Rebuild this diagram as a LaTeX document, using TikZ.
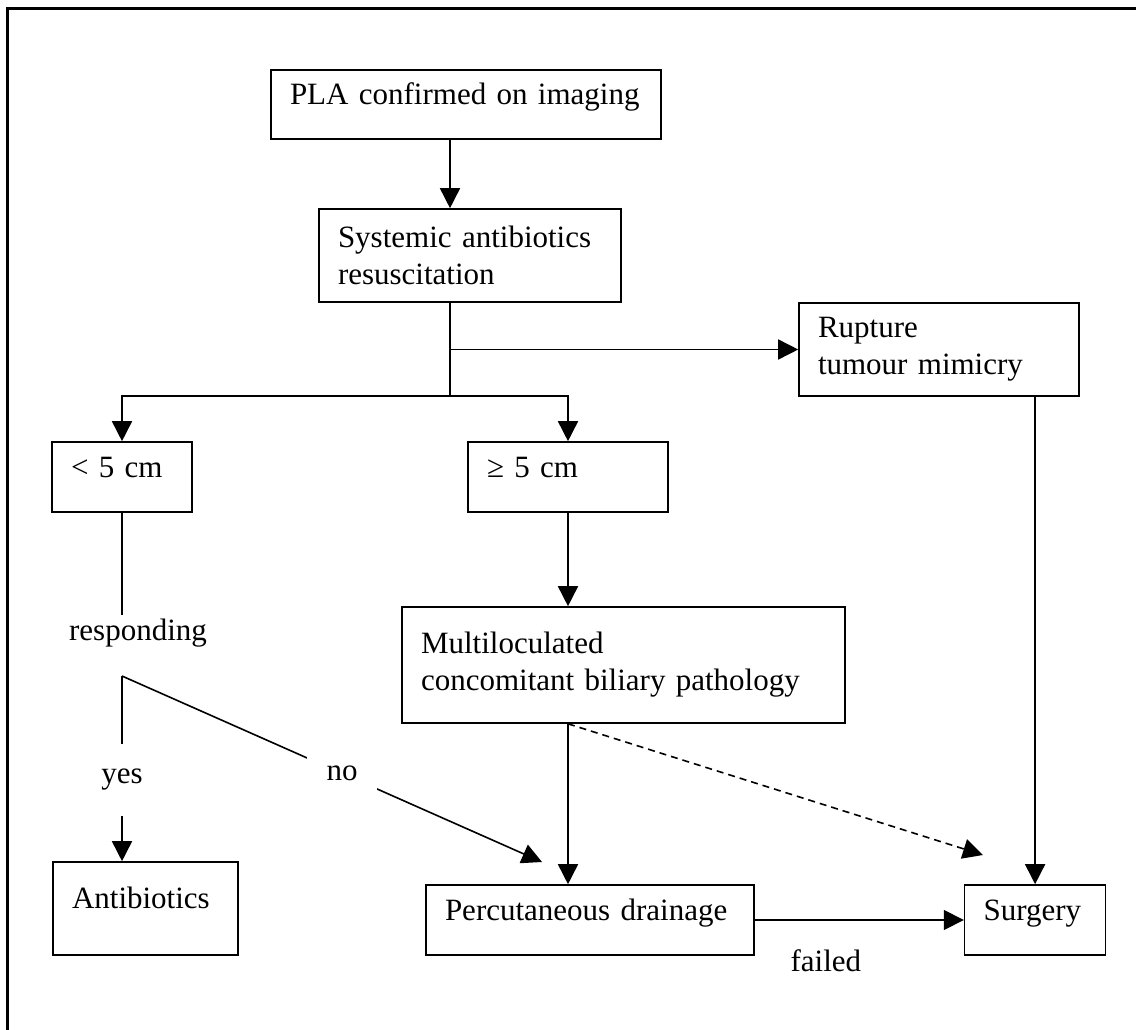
\documentclass[tikz,border=0pt]{standalone}
\usepackage{fontspec}
\setmainfont{Liberation Serif}
\usepackage{tikz}
\usetikzlibrary{positioning}
\usetikzlibrary{arrows}
\usetikzlibrary{arrows.meta}
\tikzset{box node/.style={draw,rectangle,line width=1.6pt,align=left,inner xsep=19pt,inner ysep=0pt},
  one line/.style={text height=12pt,text depth=12pt},
  gap node/.style={fill=white,inner sep=0pt,minimum width=70pt,minimum height=72pt},}

\begin{document}
\begin{tikzpicture}[x=1pt,y=-1pt,->,>={Triangle[length=20pt,width=20pt]},line width=1.6pt,font=\fontsize{31}{37}\selectfont]
	\useasboundingbox (0,0) rectangle (1136,1030);
	\draw[-,line width=3pt] (7,9) rectangle (1160,1060);

	\node[box node,one line,text width=352pt,minimum height=69pt] (pla) at (466,104.5) {PLA confirmed on imaging};
	\node[box node,text width=264pt,minimum height=93pt] (sys) at (470,255.5) {Systemic antibiotics\\resuscitation};
	\node[box node,text width=242pt,minimum height=93pt] (rup) at (939,349.5) {Rupture\\tumour mimicry};
	\node[box node,one line,text width=102pt,minimum height=70pt] (small) at (122,477) {< 5 cm};
	\node[box node,one line,text width=162pt,minimum height=70pt] (large) at (568,477) {≥ 5 cm};
	\node[box node,text width=405pt,minimum height=116pt] (multi) at (623.5,665) {Multiloculated\\concomitant biliary pathology};
	\node (resp) at (138,633) {responding};
	\node[box node,one line,text width=147pt,minimum height=93pt] (anti) at (145.5,908.5) {Antibiotics};
	\node[box node,one line,text width=290pt,minimum height=70pt] (perc) at (590,920) {Percutaneous drainage};
	\node[box node,one line,text width=103pt,minimum height=70pt] (surg) [right=209pt of perc] {Surgery};

	\coordinate (trunk) at (450,396);
	\coordinate (split) at (122,676);
	\coordinate (noend) at (542,862);
	\coordinate (dashend) at (983,855);

	\path
	(pla.south -| trunk) edge (sys.north -| trunk)
	(sys.south -| trunk) edge[-] (trunk)
	(trunk |- rup.west) edge (rup.west)
	(large) edge (large |- multi.north)
	(small) edge[-] (small |- resp.north)
	(split) edge node[gap node,pos=0.56] {yes} (split |- anti.north)
	(split) edge node[gap node,pos=0.524] {no} (noend)
	(multi.south -| large) edge (perc.north -| large)
	(multi.south -| large) edge[dash pattern=on 7pt off 5pt] (dashend)
	(perc) edge node[below=26pt,pos=0.34] {failed} (surg)
	(rup.south -| surg) edge (surg);
	\draw (trunk) -| (small);
	\draw (trunk) -| (large);
\end{tikzpicture}
\end{document}
